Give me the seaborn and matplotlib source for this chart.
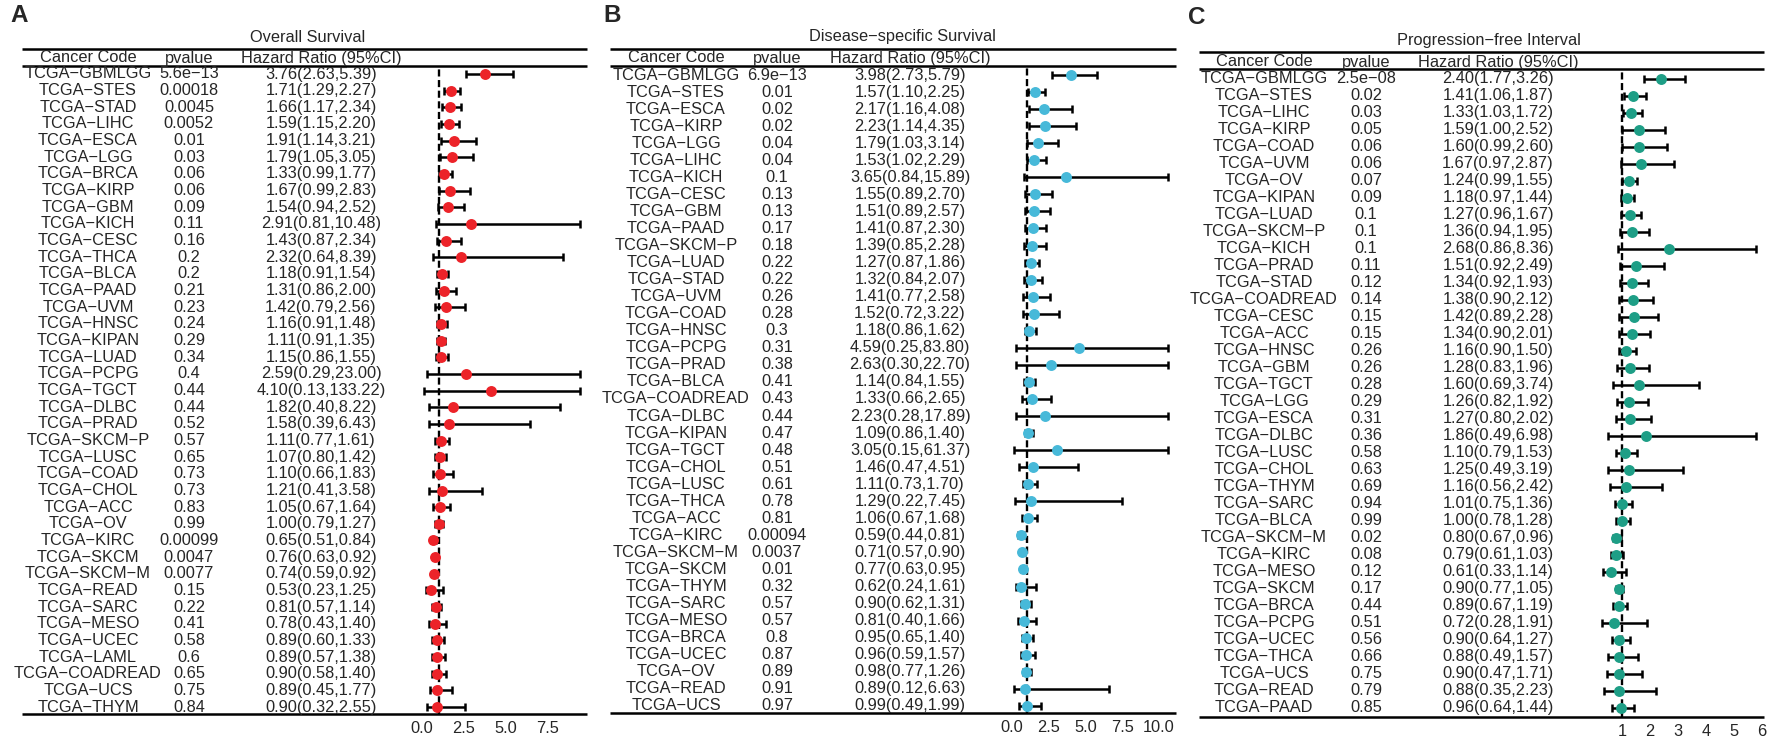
import numpy as np
import matplotlib
matplotlib.use("Agg")
import matplotlib.pyplot as plt
import matplotlib.transforms as mtransforms
import seaborn as sns

# ---- data: Overall Survival
os_codes = ["GBMLGG", "STES", "STAD", "LIHC", "ESCA", "LGG", "BRCA", "KIRP", "GBM", "KICH",
            "CESC", "THCA", "BLCA", "PAAD", "UVM", "HNSC", "KIPAN", "LUAD", "PCPG", "TGCT",
            "DLBC", "PRAD", "SKCM-P", "LUSC", "COAD", "CHOL", "ACC", "OV", "KIRC", "SKCM",
            "SKCM-M", "READ", "SARC", "MESO", "UCEC", "LAML", "COADREAD", "UCS", "THYM"]
os_p = ["5.6e-13", "0.00018", "0.0045", "0.0052", "0.01", "0.03", "0.06", "0.06", "0.09", "0.11",
        "0.16", "0.2", "0.2", "0.21", "0.23", "0.24", "0.29", "0.34", "0.4", "0.44",
        "0.44", "0.52", "0.57", "0.65", "0.73", "0.73", "0.83", "0.99", "0.00099", "0.0047",
        "0.0077", "0.15", "0.22", "0.41", "0.58", "0.6", "0.65", "0.75", "0.84"]
os_hr = [3.76, 1.71, 1.66, 1.59, 1.91, 1.79, 1.33, 1.67, 1.54, 2.91,
         1.43, 2.32, 1.18, 1.31, 1.42, 1.16, 1.11, 1.15, 2.59, 4.10,
         1.82, 1.58, 1.11, 1.07, 1.10, 1.21, 1.05, 1.00, 0.65, 0.76,
         0.74, 0.53, 0.81, 0.78, 0.89, 0.89, 0.90, 0.89, 0.90]
os_lo = [2.63, 1.29, 1.17, 1.15, 1.14, 1.05, 0.99, 0.99, 0.94, 0.81,
         0.87, 0.64, 0.91, 0.86, 0.79, 0.91, 0.91, 0.86, 0.29, 0.13,
         0.40, 0.39, 0.77, 0.80, 0.66, 0.41, 0.67, 0.79, 0.51, 0.63,
         0.59, 0.23, 0.57, 0.43, 0.60, 0.57, 0.58, 0.45, 0.32]
os_hi = [5.39, 2.27, 2.34, 2.20, 3.21, 3.05, 1.77, 2.83, 2.52, 10.48,
         2.34, 8.39, 1.54, 2.00, 2.56, 1.48, 1.35, 1.55, 23.00, 133.22,
         8.22, 6.43, 1.61, 1.42, 1.83, 3.58, 1.64, 1.27, 0.84, 0.92,
         0.92, 1.25, 1.14, 1.40, 1.33, 1.38, 1.40, 1.77, 2.55]

# ---- data: Disease-specific Survival
dss_codes = ["GBMLGG", "STES", "ESCA", "KIRP", "LGG", "LIHC", "KICH", "CESC", "GBM", "PAAD",
             "SKCM-P", "LUAD", "STAD", "UVM", "COAD", "HNSC", "PCPG", "PRAD", "BLCA", "COADREAD",
             "DLBC", "KIPAN", "TGCT", "CHOL", "LUSC", "THCA", "ACC", "KIRC", "SKCM-M", "SKCM",
             "THYM", "SARC", "MESO", "BRCA", "UCEC", "OV", "READ", "UCS"]
dss_p = ["6.9e-13", "0.01", "0.02", "0.02", "0.04", "0.04", "0.1", "0.13", "0.13", "0.17",
         "0.18", "0.22", "0.22", "0.26", "0.28", "0.3", "0.31", "0.38", "0.41", "0.43",
         "0.44", "0.47", "0.48", "0.51", "0.61", "0.78", "0.81", "0.00094", "0.0037", "0.01",
         "0.32", "0.57", "0.57", "0.8", "0.87", "0.89", "0.91", "0.97"]
dss_hr = [3.98, 1.57, 2.17, 2.23, 1.79, 1.53, 3.65, 1.55, 1.51, 1.41,
          1.39, 1.27, 1.32, 1.41, 1.52, 1.18, 4.59, 2.63, 1.14, 1.33,
          2.23, 1.09, 3.05, 1.46, 1.11, 1.29, 1.06, 0.59, 0.71, 0.77,
          0.62, 0.90, 0.81, 0.95, 0.96, 0.98, 0.89, 0.99]
dss_lo = [2.73, 1.10, 1.16, 1.14, 1.03, 1.02, 0.84, 0.89, 0.89, 0.87,
          0.85, 0.87, 0.84, 0.77, 0.72, 0.86, 0.25, 0.30, 0.84, 0.66,
          0.28, 0.86, 0.15, 0.47, 0.73, 0.22, 0.67, 0.44, 0.57, 0.63,
          0.24, 0.62, 0.40, 0.65, 0.59, 0.77, 0.12, 0.49]
dss_hi = [5.79, 2.25, 4.08, 4.35, 3.14, 2.29, 15.89, 2.70, 2.57, 2.30,
          2.28, 1.86, 2.07, 2.58, 3.22, 1.62, 83.80, 22.70, 1.55, 2.65,
          17.89, 1.40, 61.37, 4.51, 1.70, 7.45, 1.68, 0.81, 0.90, 0.95,
          1.61, 1.31, 1.66, 1.40, 1.57, 1.26, 6.63, 1.99]

# ---- data: Progression-free Interval
pfi_codes = ["GBMLGG", "STES", "LIHC", "KIRP", "COAD", "UVM", "OV", "KIPAN", "LUAD", "SKCM-P",
             "KICH", "PRAD", "STAD", "COADREAD", "CESC", "ACC", "HNSC", "GBM", "TGCT", "LGG",
             "ESCA", "DLBC", "LUSC", "CHOL", "THYM", "SARC", "BLCA", "SKCM-M", "KIRC", "MESO",
             "SKCM", "BRCA", "PCPG", "UCEC", "THCA", "UCS", "READ", "PAAD"]
pfi_p = ["2.5e-08", "0.02", "0.03", "0.05", "0.06", "0.06", "0.07", "0.09", "0.1", "0.1",
         "0.1", "0.11", "0.12", "0.14", "0.15", "0.15", "0.26", "0.26", "0.28", "0.29",
         "0.31", "0.36", "0.58", "0.63", "0.69", "0.94", "0.99", "0.02", "0.08", "0.12",
         "0.17", "0.44", "0.51", "0.56", "0.66", "0.75", "0.79", "0.85"]
pfi_hr = [2.40, 1.41, 1.33, 1.59, 1.60, 1.67, 1.24, 1.18, 1.27, 1.36,
          2.68, 1.51, 1.34, 1.38, 1.42, 1.34, 1.16, 1.28, 1.60, 1.26,
          1.27, 1.86, 1.10, 1.25, 1.16, 1.01, 1.00, 0.80, 0.79, 0.61,
          0.90, 0.89, 0.72, 0.90, 0.88, 0.90, 0.88, 0.96]
pfi_lo = [1.77, 1.06, 1.03, 1.00, 0.99, 0.97, 0.99, 0.97, 0.96, 0.94,
          0.86, 0.92, 0.92, 0.90, 0.89, 0.90, 0.90, 0.83, 0.69, 0.82,
          0.80, 0.49, 0.79, 0.49, 0.56, 0.75, 0.78, 0.67, 0.61, 0.33,
          0.77, 0.67, 0.28, 0.64, 0.49, 0.47, 0.35, 0.64]
pfi_hi = [3.26, 1.87, 1.72, 2.52, 2.60, 2.87, 1.55, 1.44, 1.67, 1.95,
          8.36, 2.49, 1.93, 2.12, 2.28, 2.01, 1.50, 1.96, 3.74, 1.92,
          2.02, 6.98, 1.53, 3.19, 2.42, 1.36, 1.28, 0.96, 1.03, 1.14,
          1.05, 1.19, 1.91, 1.27, 1.57, 1.71, 2.23, 1.44]

os_ticks = [0, 2.5, 5.0, 7.5]
dss_ticks = [0, 2.5, 5.0, 7.5, 10.0]
pfi_ticks = [1, 2, 3, 4, 5, 6]

sns.set_style("white")
plt.rcParams['font.family'] = ['Liberation Sans', 'DejaVu Sans']

W, H = 1769, 738
fig = plt.figure(figsize=(W / 100, H / 100), dpi=100)
bg = fig.add_axes([0, 0, 1, 1])
bg.set_xlim(0, W)
bg.set_ylim(H, 0)
bg.axis('off')

FS = 11.8

# layout per panel (pixel units)
panels = [
    dict(letter="A", lx=10, ly=16, title="Overall Survival", tx=308, ty=37,
         left=22, right=587, h1=49, h2=66, bot=714, y0=74, dy=16.66, hy=58,
         ccode=88, cp=189, chr=321, x0=422, ppu=16.8, fl=405, clip=580,
         codes=os_codes, p=os_p, hr=os_hr, lo=os_lo, hi=os_hi, ticks=os_ticks,
         fmt="{:.1f}", color="#EC2329"),
    dict(letter="B", lx=603, ly=16, title="Disease\u2212specific Survival", tx=902, ty=37,
         left=610, right=1176, h1=49, h2=66, bot=713, y0=75, dy=17.05, hy=58,
         ccode=676, cp=777, chr=910, x0=1012, ppu=14.7, fl=995, clip=1168,
         codes=dss_codes, p=dss_p, hr=dss_hr, lo=dss_lo, hi=dss_hi, ticks=dss_ticks,
         fmt="{:.1f}", color="#47B9D9"),
    dict(letter="C", lx=1188, ly=17, title="Progression\u2212free Interval", tx=1489, ty=40,
         left=1199, right=1764, h1=52, h2=69, bot=717, y0=79, dy=17.0, hy=62,
         ccode=1264, cp=1366, chr=1498, x0=1594, ppu=28.0, fl=1585, clip=1756,
         codes=pfi_codes, p=pfi_p, hr=pfi_hr, lo=pfi_lo, hi=pfi_hi, ticks=pfi_ticks,
         fmt="{:.0f}", color="#1E9E86"),
]

for pn in panels:
    # letter, title, header lines
    bg.text(pn["lx"], pn["ly"], pn["letter"], fontsize=17.5, fontweight='bold',
            ha='left', va='center')
    bg.text(pn["tx"], pn["ty"], pn["title"], fontsize=FS, ha='center', va='center')
    for yy in (pn["h1"], pn["h2"], pn["bot"]):
        bg.plot([pn["left"], pn["right"]], [yy, yy], color='black', lw=1.8,
                solid_capstyle='butt')
    bg.text(pn["ccode"], pn["hy"], "Cancer Code", fontsize=FS, ha='center', va='center')
    bg.text(pn["cp"], pn["hy"], "pvalue", fontsize=FS, ha='center', va='center')
    bg.text(pn["chr"], pn["hy"], "Hazard Ratio (95%CI)", fontsize=FS, ha='center', va='center')

    # forest axes
    n = len(pn["codes"])
    rows = np.arange(n)
    hr = np.array(pn["hr"])
    lo = np.array(pn["lo"])
    hi = np.array(pn["hi"])
    xval = lambda px: (px - pn["x0"]) / pn["ppu"]
    xmax = xval(pn["right"])
    clipv = xval(pn["clip"])
    ax = fig.add_axes([pn["fl"] / W, 1 - pn["bot"] / H,
                       (pn["right"] - pn["fl"]) / W, (pn["bot"] - pn["h2"]) / H])
    ax.set_xlim(xval(pn["fl"]), xmax)
    ax.set_ylim((pn["bot"] - pn["y0"]) / pn["dy"], (pn["h2"] - pn["y0"]) / pn["dy"])
    ax.patch.set_alpha(0)
    for s in ax.spines.values():
        s.set_visible(False)
    ax.set_yticks([])
    ax.set_xticks(pn["ticks"])
    ax.set_xticklabels([pn["fmt"].format(t) for t in pn["ticks"]], fontsize=FS)
    ax.tick_params(axis='x', length=0, pad=5)
    ax.grid(False)

    ax.axvline(1, color='black', lw=1.7, ls=(0, (3, 1.5)), zorder=1)
    hi_c = np.minimum(hi, clipv)
    ax.errorbar(hr, rows, xerr=[hr - lo, hi_c - hr], fmt='none', ecolor='black',
                elinewidth=1.8, capsize=2.6, capthick=1.8, zorder=2, clip_on=False)
    sns.scatterplot(x=hr, y=rows, ax=ax, color=pn["color"], s=62, linewidth=0,
                    zorder=3, legend=False, clip_on=False)
    ax.set_xlabel("")
    ax.set_ylabel("")

    # table text, x in pixels, y in row units
    tr = mtransforms.blended_transform_factory(bg.transData, ax.transData)
    for i in range(n):
        bg.text(pn["ccode"], i, "TCGA\u2212" + pn["codes"][i].replace("-", "\u2212"),
                transform=tr, fontsize=FS, ha='center', va='center')
        bg.text(pn["cp"], i, pn["p"][i].replace("-", "\u2212"),
                transform=tr, fontsize=FS, ha='center', va='center')
        bg.text(pn["chr"], i, "{:.2f}({:.2f},{:.2f})".format(hr[i], lo[i], hi[i]),
                transform=tr, fontsize=FS, ha='center', va='center')

fig.savefig("out.png", dpi=100)
